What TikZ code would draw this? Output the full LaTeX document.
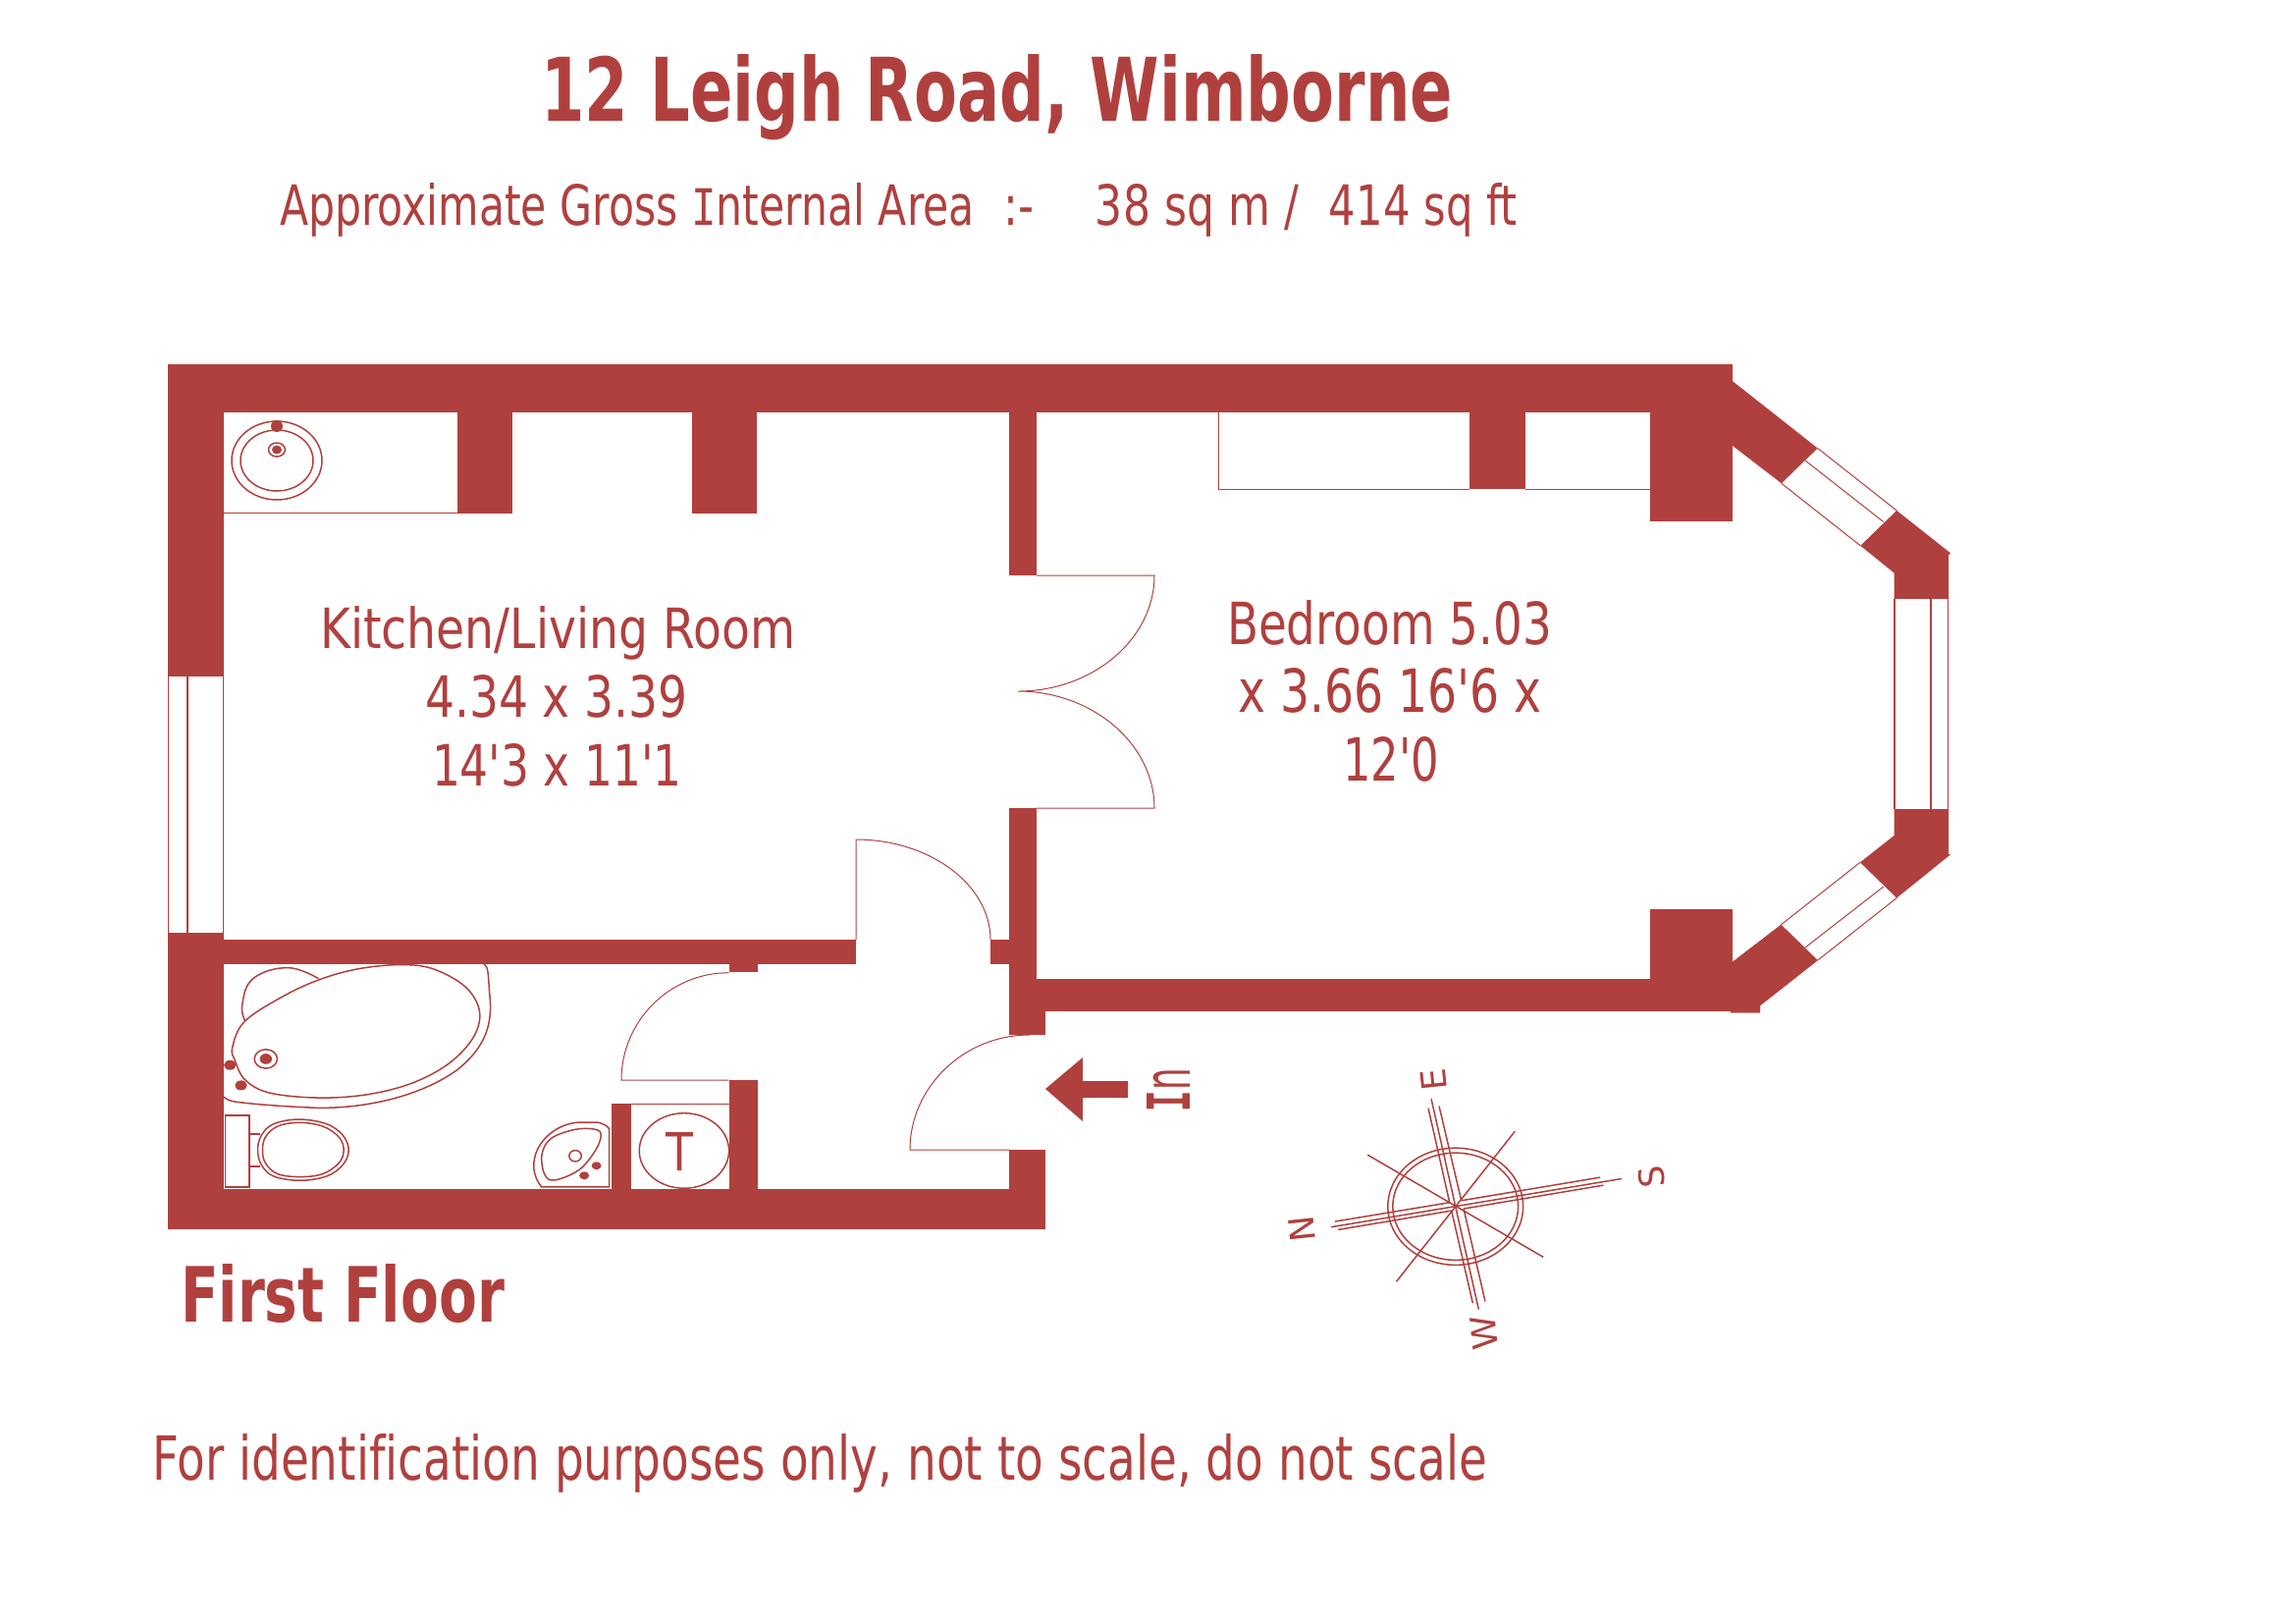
\documentclass[tikz,border=0pt]{standalone}
\usepackage{fontspec}
\usepackage{graphicx}
\newfontfamily\dv{DejaVu Sans}[Ligatures=NoCommon]
\setmainfont{DejaVu Sans}
\newfontfamily\serifI{Liberation Mono}
\definecolor{plan}{HTML}{B0403E}
\newdimen\pxu \pxu=0.01cm
\newcommand{\fitbox}[3]{\resizebox{#1\pxu}{#2\pxu}{\fontsize{40}{40}\dv #3}}
\tikzset{
  wall/.style={fill=plan,draw=none},
  thin line/.style={draw=plan,line width=0.01cm},
  thick line/.style={draw=plan,line width=0.015cm},
  label/.style={inner sep=0pt,outer sep=0pt,anchor=base west,text=plan},
  compass letter/.style={text=plan,inner sep=0pt,rotate=96,font=\fontsize{10}{10}\dv},
  zoomtwo/.style={shift={(150,930)},x=0.004149cm,y=-0.003333cm},
  zoomfour/.style={shift={(1650,350)},x=0.003333cm,y=-0.004464cm},
  zoomfive/.style={shift={(1300,1060)},x=0.003333cm,y=-0.003333cm},
}
\begin{document}
\begin{tikzpicture}[x=0.01cm,y=-0.01cm]
\useasboundingbox (0,0) rectangle (2339,1653);
% walls
\fill[wall] (171,371) rectangle (1765,420);
\fill[wall] (171,371) rectangle (228,689);
\fill[wall] (171,950) rectangle (228,1252);
\fill[wall] (171,1211) rectangle (1065,1252);
\fill[wall] (466,420) rectangle (522,523);
\fill[wall] (705,420) rectangle (771,523);
\fill[wall] (228,957) rectangle (872,982);
\fill[wall] (742.5,982) rectangle (771.5,990);
\fill[wall] (1009,957) rectangle (1028,982);
\fill[wall] (1028,420) rectangle (1056,586);
\fill[wall] (1028,823) rectangle (1056,1054);
\fill[wall] (1056,1030) rectangle (1065,1054);
\fill[wall] (1028,1171) rectangle (1065,1252);
\fill[wall] (622.6,1124) rectangle (642.5,1211);
\fill[wall] (742.5,1100) rectangle (771.5,1211);
\fill[wall] (1497,420) rectangle (1554,498);
\fill[wall] (1681,420) rectangle (1765,531);
\fill[wall] (1056,997) rectangle (1793,1030);
\fill[wall] (1681,926) rectangle (1765,997);
\begin{scope}[zoomfour]
\fill[wall] (340,82) -- (345,85) -- (606,238) -- (495,318) -- (345,232) -- (340,232) -- cycle;
\fill[wall] (848,380) -- (1013,477) -- (1007,481) -- (1007,581) -- (840,581) -- (840,522) -- (737,460) -- cycle;
\fill[wall] (840,1060) -- (1007,1060) -- (1007,1163) -- (1013,1163) -- (848,1262) -- (736,1181) -- (840,1120) -- cycle;
\fill[wall] (494,1323) -- (606,1404) -- (430,1507) -- (430,1523) -- (340,1523) -- (340,1411) -- (345,1408) -- cycle;
\draw[thin line] (606,238) -- (848,380) (568,266) -- (808,406) (495,318) -- (737,460);
\draw[thin line] (736,1181) -- (494,1323) (808,1236) -- (568,1375) (848,1262) -- (606,1404);
\draw[thick line] (842,581) -- (842,1060) (952,581) -- (952,1060) (1005,581) -- (1005,1060);
\end{scope}
% clear the wall corner that would stand proud of the outer diagonal
\fill[white] (1770,1030.2) -- (1793,1023) -- (1800,1015) -- (1800,985) -- (1770,985) -- cycle;
\begin{scope}[zoomfour]
\fill[wall] (340,1411) -- (494,1323) -- (606,1404) -- (430,1507) -- (430,1523) -- (340,1523) -- cycle;
\end{scope}
% west window
\draw[thick line] (171.5,689) -- (171.5,950) (191,689) -- (191,950) (227.5,689) -- (227.5,950);
% doors
\draw[thin line] (742.5,990.7) .. controls (682,990.7) and (633,1040) .. (633,1100) -- (742.5,1100);
\draw[thin line] (872,957) -- (872,855) .. controls (947,855) and (1009,901) .. (1009,957);
\draw[thin line] (1049,1054) .. controls (982,1054) and (927,1107) .. (927,1171) -- (1028,1171);
\draw[thin line] (1056,586) -- (1176,586) .. controls (1176,651) and (1113,704) .. (1037,704) .. controls (1113,704) and (1176,758) .. (1176,823) -- (1056,823);
% cupboard lines
\draw[thin line] (1241,420) -- (1241,498) -- (1497,498) (1554,498) -- (1681,498);
\draw[thin line] (642.5,1124) -- (742.5,1124);
\draw[thin line] (228,522) -- (466,522);
% kitchen sink
\draw[thick line] (282,469) ellipse [x radius=46,y radius=40];
\draw[thick line] (282,469) ellipse [x radius=37,y radius=31];
\fill[wall] (282,434) ellipse [x radius=6,y radius=6];
\draw[thick line] (282,458) ellipse [x radius=8.5,y radius=7];
\fill[wall] (282,458) ellipse [x radius=5,y radius=4.5];
% bathroom
\begin{scope}[zoomtwo]
\draw[thick line] (826,155) .. controls (838,165) and (836,190) .. (840,250) .. controls (848,340) and (830,410) .. (760,480) .. controls (670,560) and (540,597) .. (420,596) .. controls (340,592) and (260,585) .. (215,577) .. controls (200,574) and (192,568) .. (188,562);
\draw[thick line] plot[smooth cycle,tension=0.6] coordinates {(209,410) (240,330) (340,250) (430,200) (520,170) (620,158) (700,170) (780,225) (815,300) (800,380) (740,460) (650,520) (540,555) (420,565) (300,550) (240,510) (215,450)};
\draw[thick line] plot[smooth,tension=0.7] coordinates {(240,330) (233,280) (260,200) (345,167) (420,200)};
\fill[wall] (203,465) ellipse [x radius=15,y radius=15];
\fill[wall] (230,527) ellipse [x radius=15,y radius=15];
\draw[thick line] (291,446) ellipse [x radius=28,y radius=29];
\fill[wall] (291,446) ellipse [x radius=15,y radius=16];
% toilet
\draw[thick line] (191,619) rectangle (250,838);
\draw[thick line] (250,676) -- (278,676) (250,775) -- (278,775);
\draw[thick line] plot[smooth cycle,tension=0.6] coordinates {(271,725) (280,680) (310,645) (372,631) (440,645) (480,680) (494,725) (480,770) (440,805) (375,818) (310,805) (280,770)};
\draw[thick line] plot[smooth cycle,tension=0.6] coordinates {(283,725) (290,685) (320,652) (372,641) (430,652) (470,685) (482,725) (470,765) (430,798) (375,807) (320,798) (290,765)};
% basin
\draw[thick line] (1133,838) -- (967,838) .. controls (950,810) and (945,780) .. (950,750) .. controls (960,690) and (1010,640) .. (1065,640) -- (1105,640) .. controls (1120,645) and (1130,652) .. (1133,660) -- cycle;
\draw[thick line] plot[smooth cycle,tension=0.6] coordinates {(1113,680) (1100,725) (1060,785) (1000,817) (975,800) (968,740) (990,690) (1050,662) (1100,662)};
\draw[thick line] (1050,743) ellipse [x radius=15,y radius=17];
\fill[wall] (1102,773) ellipse [x radius=12,y radius=12];
\fill[wall] (1072,803) ellipse [x radius=12,y radius=12];
% cylinder
\draw[thick line] (1317,727) ellipse [x radius=110,y radius=115];
\end{scope}
\node[label] (tank) at (678.6,1192) {\fitbox{28}{39}{T}};
% entry arrow
\fill[wall] (1065,1109) -- (1103,1077) -- (1103,1101) -- (1149,1101) -- (1149,1118) -- (1103,1118) -- (1103,1142) -- cycle;
\node[text=plan,inner sep=0pt,rotate=90] (entry) at (1190,1110) {\fitbox{44}{44}{{\serifI\bfseries I}n}};
% compass
\begin{scope}[zoomfive]
\coordinate (c) at (549,507);
\draw[thick line] (c) ellipse [x radius=207,y radius=179];
\draw[thick line] (c) ellipse [x radius=192,y radius=164];
\draw[thick line] (168,570) -- (1058,422);
\draw[thick line] (180,553) -- (531,495) (567,489) -- (992,418) (190,578) -- (537,520) (574,514) -- (1002,442);
\draw[thick line] (475,178) -- (620,822);
\draw[thick line] (466,207) -- (531,495) (537,520) -- (602,803) (499,200) -- (567,489) (574,514) -- (640,797);
\draw[thick line] (280,349) -- (818,662);
\draw[thick line] (731,277) -- (368,737);
\node[compass letter] (north) at (78,575) {N};
\node[compass letter] (east) at (482,119) {E};
\node[compass letter] (south) at (1150,416) {S};
\node[compass letter] (west) at (638,893) {W};
\end{scope}
% text
\node[label] (title) at (551,123) {\fitbox{929}{68}{\bfseries 12 Leigh Road, Wimborne}};
\node[label] (area) at (285,229) {\fitbox{708}{43}{\vphantom{Ald}Approximate Gross {\serifI I}nternal Area}\hspace{30\pxu}\fitbox{31}{43}{\vphantom{Ald}:-}\hspace{62\pxu}\fitbox{207}{43}{\vphantom{Ald}38 sq m /}\hspace{31\pxu}\fitbox{192}{43}{\vphantom{Ald}414 sq ft}};
\node[label] (kitchen) at (326,660) {\fitbox{484}{43}{Kitchen/Living Room}};
\node[label] (kitchenm) at (433,730) {\fitbox{268}{43}{4.34 x 3.39}};
\node[label] (kitchenf) at (440,800) {\fitbox{255}{43}{14'3 x 11'1}};
\node[label] (bedroom) at (1250,656) {\fitbox{331}{45}{Bedroom 5.03}};
\node[label] (bedroomb) at (1261,725) {\fitbox{310}{45}{x 3.66 16'6 x}};
\node[label] (bedroomc) at (1368,795) {\fitbox{98}{45}{12'0}};
\node[label] (floor) at (184,1346) {\fitbox{330}{59}{\bfseries First Floor}};
\node[label] (note) at (155,1507) {\fitbox{1360}{47}{For identification purposes only, not to scale, do not scale}};
\end{tikzpicture}
\end{document}
